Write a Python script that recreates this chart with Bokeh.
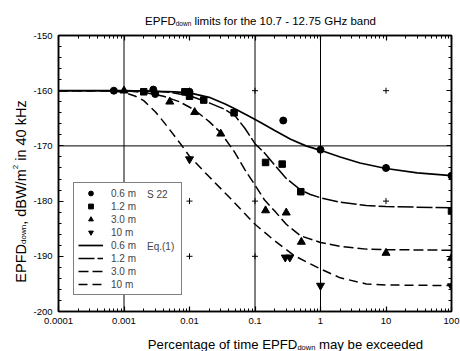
import numpy as np
from bokeh.plotting import figure
from bokeh.layouts import row, column
from bokeh.models import (Span, Label, Legend, LegendItem, FixedTicker,
                          CustomJSTickFormatter, LinearAxis, LogAxis)
from bokeh.embed import file_html
from bokeh.resources import INLINE

# ---------------- data ----------------
x_tick_values = [1e-4, 1e-3, 1e-2, 1e-1, 1, 10, 100]
x_tick_labels = ["0.0001", "0.001", "0.01", "0.1", "1", "10", "100"]
y_tick_values = [-200, -190, -180, -170, -160, -150]

# Eq.(1) curves
eq_x_06 = [1e-4, 1e-3, 3e-3, 0.006, 0.01, 0.02, 0.035, 0.05, 0.08, 0.12, 0.2, 0.35, 0.6, 1, 2, 4, 10, 30, 100]
eq_y_06 = [-160, -160, -160.1, -160.2, -160.4, -161.2, -162.4, -163.3, -164.6, -165.7, -167.2, -168.8, -170.0, -170.8, -172.0, -173.1, -174.1, -174.9, -175.4]
eq_x_12 = [1e-4, 2e-3, 5e-3, 0.01, 0.02, 0.035, 0.05, 0.07, 0.1, 0.14, 0.2, 0.3, 0.5, 0.7, 1, 2, 5, 10, 100]
eq_y_12 = [-160, -160, -160.3, -160.9, -162.2, -163.4, -164.6, -166.8, -169.6, -171.3, -173.5, -175.9, -178.0, -178.8, -179.4, -180.2, -180.8, -181.0, -181.2]
eq_x_30 = [1e-4, 1e-3, 2e-3, 4e-3, 0.007, 0.012, 0.02, 0.03, 0.048, 0.07, 0.1, 0.14, 0.2, 0.3, 0.5, 1, 2, 5, 10, 100]
eq_y_30 = [-160, -160, -160.3, -161.0, -162.0, -163.5, -165.6, -167.6, -171.0, -174.3, -177.1, -179.8, -181.8, -184.2, -186.3, -187.5, -188.2, -188.7, -188.8, -188.9]
eq_x_10 = [1e-4, 6e-4, 1e-3, 1.5e-3, 2e-3, 3e-3, 4e-3, 6e-3, 0.0077, 0.01, 0.02, 0.042, 0.1, 0.2, 0.4, 1, 2, 5, 10, 100]
eq_y_10 = [-160, -160, -160.3, -161.0, -161.8, -163.8, -165.6, -168.3, -170.0, -171.9, -175.6, -179.5, -184.2, -187.2, -189.9, -192.3, -193.9, -195.0, -195.2, -195.3]

# S 22 measured points
s22_x_06 = [0.0007, 0.0028, 0.003, 0.01, 0.27, 1, 10, 100]
s22_y_06 = [-160.0, -159.8, -160.6, -160.2, -165.4, -170.7, -174.0, -175.4]
s22_x_12 = [0.002, 0.0085, 0.01, 0.0165, 0.048, 0.145, 0.26, 0.5, 100]
s22_y_12 = [-160.2, -160.2, -161.0, -161.7, -164.0, -173.0, -173.3, -178.3, -181.8]
s22_x_30 = [0.001, 0.005, 0.012, 0.03, 0.145, 0.3, 0.51, 10, 100]
s22_y_30 = [-160.0, -162.0, -163.9, -167.8, -181.7, -182.1, -187.4, -189.4, -190.3]
s22_x_10 = [0.01, 0.29, 0.34, 1, 100]
s22_y_10 = [-172.4, -190.2, -190.2, -195.3, -195.4]

grid_x = [0.001, 0.1, 1]
grid_y = [-170]
plus_x = [0.01, 0.1, 10, 0.01, 0.1, 10, 0.01, 0.1]
plus_y = [-160, -160, -160, -180, -180, -180, -190, -190]

legend_labels = ["0.6 m", "1.2 m", "3.0 m", "10 m", "0.6 m", "1.2 m", "3.0 m", "10 m"]
legend_group_labels = ["S 22", "Eq.(1)"]

# ---------------- layout ----------------
FONT = "Liberation Sans"
TOT_W, TOT_H = 460, 351
YL_W = 30                 # left strip for the y label
TT_H = 28                 # top strip for the title
XL_H = 20                 # bottom strip for the x label
MW, MH = TOT_W - YL_W, TOT_H - TT_H - XL_H
BL, BR, BT, BB = 28, 9, 7, 20

AW = {' ': 278, '!': 278, '(': 333, ')': 333, ',': 278, '-': 333, '.': 278, '/': 278, ':': 278,
      'A': 667, 'B': 667, 'C': 722, 'D': 722, 'E': 667, 'F': 611, 'G': 778, 'H': 722, 'I': 278,
      'K': 667, 'L': 556, 'M': 833, 'N': 722, 'O': 778, 'P': 667, 'Q': 778, 'R': 722, 'S': 667,
      'T': 611, 'U': 722, 'V': 667, 'W': 944, 'X': 667, 'Y': 667, 'Z': 611,
      'a': 556, 'b': 556, 'c': 500, 'd': 556, 'e': 556, 'f': 278, 'g': 556, 'h': 556, 'i': 222,
      'j': 222, 'k': 500, 'l': 222, 'm': 833, 'n': 556, 'o': 556, 'p': 556, 'q': 556, 'r': 333,
      's': 500, 't': 278, 'u': 556, 'v': 500, 'w': 722, 'x': 500, 'y': 500, 'z': 500}


def tw(s, size):
    return sum(AW.get(c, 556) for c in s) * size / 1000.0


p = figure(width=MW, height=MH, x_axis_type="log", x_range=(1e-4, 100), y_range=(-200, -150),
           output_backend="svg", toolbar_location=None,
           min_border_left=BL, min_border_right=BR, min_border_top=BT, min_border_bottom=BB)
p.title.visible = False
p.grid.visible = False
p.outline_line_color = "black"
p.outline_line_width = 1.5
p.background_fill_color = "white"
p.border_fill_color = "white"

x_minor = [m * 10.0 ** e for e in range(-4, 2) for m in range(2, 10)]
y_minor = list(range(-200, -149, 2))
xticker = FixedTicker(ticks=x_tick_values, minor_ticks=x_minor)
yticker = FixedTicker(ticks=y_tick_values, minor_ticks=y_minor)

xfmt = CustomJSTickFormatter(args=dict(labels=x_tick_labels),
                             code="const i = Math.round(Math.log10(tick)) + 4; return labels[i] ?? '';")
yfmt = CustomJSTickFormatter(code="return tick.toFixed(0);")
blank = CustomJSTickFormatter(code="return '';")


def style_axis(ax, fmt, show):
    ax.ticker = xticker if isinstance(ax, LogAxis) else yticker
    ax.formatter = fmt
    ax.major_tick_in = 5
    ax.major_tick_out = 0
    ax.minor_tick_in = 3
    ax.minor_tick_out = 0
    ax.axis_line_width = 1.5
    ax.major_tick_line_width = 1.2
    ax.minor_tick_line_width = 1
    ax.major_label_text_font = FONT
    ax.major_label_text_font_size = "9.5px" if show else "1px"
    ax.major_label_text_color = "black"
    ax.major_label_standoff = 6 if show else 0


style_axis(p.xaxis[0], xfmt, True)
style_axis(p.yaxis[0], yfmt, True)
top_ax = LogAxis()
style_axis(top_ax, blank, False)
p.add_layout(top_ax, "above")
right_ax = LinearAxis()
style_axis(right_ax, blank, False)
p.add_layout(right_ax, "right")

for xv in grid_x:
    p.add_layout(Span(location=xv, dimension="height", line_color="black", line_width=1))
for yv in grid_y:
    p.add_layout(Span(location=yv, dimension="width", line_color="black", line_width=1))

p.scatter(plus_x, plus_y, marker="cross", size=6, line_color="black", line_width=1)

r06 = p.line(eq_x_06, eq_y_06, line_color="black", line_width=1.7)
r12 = p.line(eq_x_12, eq_y_12, line_color="black", line_width=1.5, line_dash="16 3")
r30 = p.line(eq_x_30, eq_y_30, line_color="black", line_width=1.5, line_dash="10 4")
r10 = p.line(eq_x_10, eq_y_10, line_color="black", line_width=1.5, line_dash="9 5")

m06 = p.scatter(s22_x_06, s22_y_06, marker="circle", size=7, color="black")
m12 = p.scatter(s22_x_12, s22_y_12, marker="square", size=6.5, color="black")
m30 = p.scatter(s22_x_30, s22_y_30, marker="triangle", size=8, color="black")
m10 = p.scatter(s22_x_10, s22_y_10, marker="inverted_triangle", size=8, color="black")

LEG_X, LEG_Y, PAD, ROW_H, SP = 15, 16, 4, 12, 1
rends = [m06, m12, m30, m10, r06, r12, r30, r10]
items = [LegendItem(label=lab, renderers=[r]) for lab, r in zip(legend_labels, rends)]
common = dict(orientation="vertical", margin=0, label_text_font=FONT, label_text_font_size="10px",
              label_text_baseline="middle", label_height=ROW_H, glyph_height=ROW_H)
legend = Legend(items=items, location=(LEG_X, LEG_Y),
                border_line_color="black", border_line_width=1.5,
                background_fill_color="white", background_fill_alpha=1.0,
                padding=PAD, spacing=SP, glyph_width=25,
                label_standoff=8, label_width=66, **common)
p.add_layout(legend)

# group captions "S 22" (row 0) and "Eq.(1)" (row 4) as glyph-less legends on top
ghost = p.scatter([], [], size=0, alpha=0)
leg_h = 2 * PAD + 8 * ROW_H + 7 * SP
leg_top = LEG_Y + leg_h                     # frame-relative, y up
for txt, rowi in zip(legend_group_labels, [0, 4]):
    row_bottom = leg_top - PAD - rowi * (ROW_H + SP) - ROW_H
    p.add_layout(Legend(items=[LegendItem(label=txt, renderers=[ghost])],
                        location=(147 - YL_W - BL, row_bottom),
                        border_line_color=None, background_fill_alpha=0.0,
                        padding=0, spacing=0, glyph_width=0, label_standoff=0,
                        label_width=10, **common))


def strip(w, h):
    f = figure(width=w, height=h, x_range=(0, 1), y_range=(0, 1), output_backend="svg",
               toolbar_location=None, min_border=0, x_axis_location=None, y_axis_location=None)
    f.title.visible = False
    f.grid.visible = False
    f.outline_line_color = None
    f.background_fill_color = "white"
    f.border_fill_color = "white"
    return f


ylab = strip(YL_W, TOT_H)
ttl = strip(MW, TT_H)
xlab = strip(MW, XL_H)


def put(fig, ox, oy, h, text, px, py, size, angle=0.0):
    fig.add_layout(Label(x=px - ox, y=oy + h - py, x_units="screen", y_units="screen",
                         text=text, text_font=FONT, text_font_size=f"{size}px",
                         text_color="black", angle=angle,
                         text_align="left", text_baseline="alphabetic"))


def compose(fig, ox, oy, h, parts, c, base, rotated=False):
    total = sum(tw(t, s) for t, s, _ in parts)
    pos = c - total / 2.0 if not rotated else c + total / 2.0
    for t, s, shift in parts:
        lead = len(t) - len(t.lstrip(" "))
        adv = tw(" " * lead, s)
        body = t.strip(" ")
        if not rotated:
            put(fig, ox, oy, h, body, pos + adv, base + shift, s)
            pos += tw(t, s)
        else:
            put(fig, ox, oy, h, body, base + shift, pos - adv, s, angle=np.pi / 2)
            pos -= tw(t, s)


compose(ttl, YL_W, 0, TT_H,
        [("EPFD", 11.5, 0), ("down", 6.5, 3), (" limits for the 10.7 - 12.75 GHz band", 11.5, 0)],
        c=232, base=20)
compose(xlab, YL_W, TT_H + MH, XL_H,
        [("Percentage of time EPFD", 13.2, 0), ("down", 7.5, 3), (" may be exceeded", 13.2, 0)],
        c=257, base=344)
compose(ylab, 0, 0, TOT_H,
        [("EPFD", 14.5, 0), ("down", 8, 3), (", dBW/m", 14.5, 0), ("2", 8, -5.5), (" in 40 kHz", 14.5, 0)],
        c=191, base=20, rotated=True)

layout = row(ylab, column(ttl, p, xlab))
open("out.html", "w").write(file_html(layout, INLINE))
